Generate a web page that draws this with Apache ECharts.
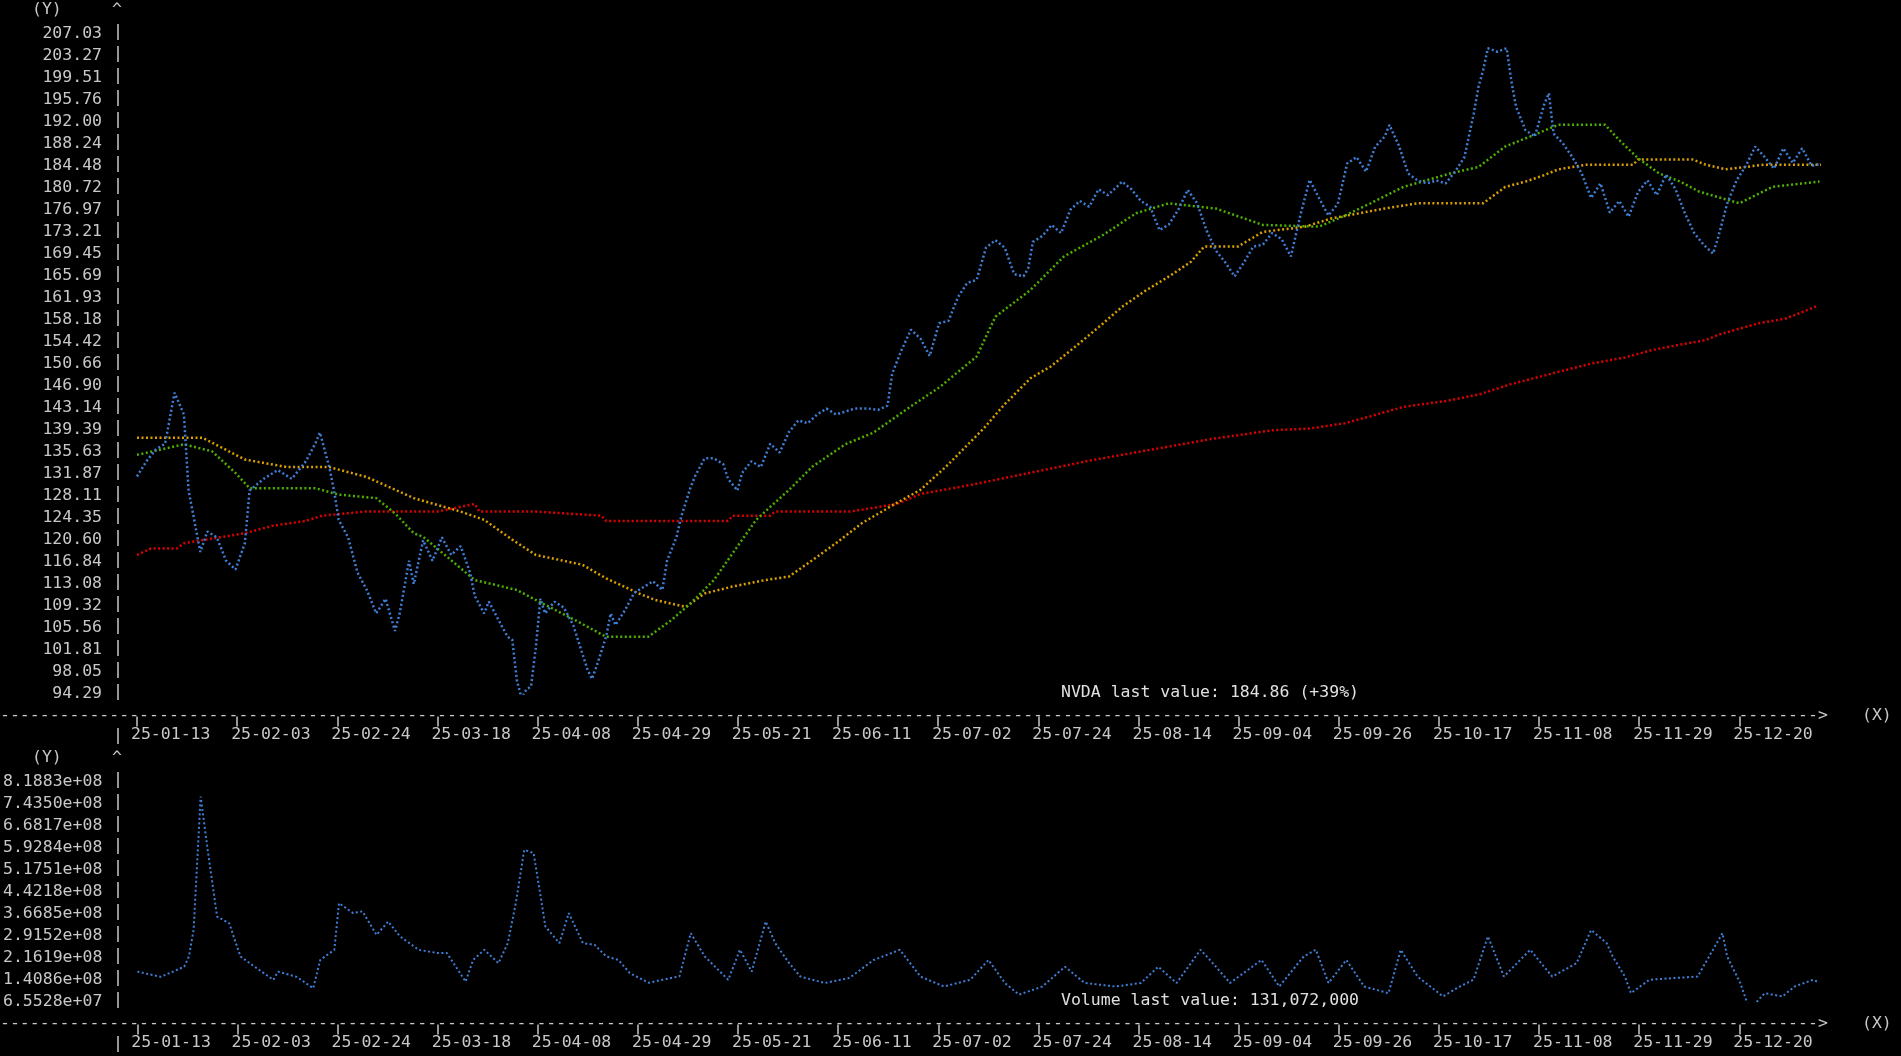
<!DOCTYPE html>
<html><head><meta charset="utf-8">
<script src="https://cdn.jsdelivr.net/npm/echarts@6/dist/echarts.min.js"></script>
<style>html,body{margin:0;padding:0;background:#000}#c{width:1901px;height:1056px}</style>
</head><body><div id="c"></div>
<script>
// x values are days after 2025-01-13 02:24
const priceDays = [0,2,4,6,8,10,11,13.5,15,17,19,21,23,24,27,30,33,36,38,39,41,42,43,45,46,47,49,51,53,55,56,58,59,61,63,65,67,69,71,72,74,75,77,79,80,81,82,83,84,85,86,87,89,91,93,95,96,97,98,100,101,102,104,106,108,110,112,113,115,116,118,119,121,123,125,126,128,129,131,133,135,137,139,141,143,145,147,149,151,153,156,158,160,161,163,165,167,169,171,173,175,177,179,181,183,185,187,189,190,191,193,195,197,199,201,203,205,207,209,210,212,214,216,218,220,222,224,226,228,230,232,234,236,238,240,242,244,246,248,250,252,254,256,258,260,262,264,266,267,269,271,273,275,277,279,281,283,285,286,287,288,290,292,293,294,296,298,300,301,302,304,306,308,310,312,314,316,318,320,322,324,326,328,330,332,334,336,337,339,341,343,345,347,349,351,353,355,357,359];
const priceVals = [131.4,134,136,137,145.7,142,129,118.5,122,121,117,115.5,120,129,131,132.5,131,134,137,138.9,133,129,124,121,118,115,112,108,110.5,105,108,117,113,120.5,117,121,118,119.5,115,111,108,110,107,104,103.5,96.5,93.5,95,95.5,102,110.5,108,110,109,106,101,98.5,96.8,99,104,108,106,108.5,111.5,112.5,113.5,112,117,121,124.5,129.5,131.5,134.5,134.5,133.5,131,129,132,134,133,137,135.5,139,141,140.5,142,143,142,142.5,143,143,142.8,143.5,149,153,156.5,155,152,157.6,158,162,164.5,165,170.5,171.8,170.5,166,165.6,167,171.5,172.5,174.4,173,177,178.5,177.5,180.5,179.5,181,181.8,180.5,178.5,177.5,173.5,174.5,177,180.4,178.1,173.5,170,168,165.6,168,170.7,171,173,172,169,176,182.1,179,176,178,184.9,186,183.5,187.8,189.5,191.5,188,183.2,182,181.5,182,181.5,183.5,186,193.5,198,200.9,204.6,204,204.6,199,194.6,190.6,189.5,195,196.9,190,188.3,186,183.2,179,181.5,176.5,178.5,175.8,180,182,179.5,183,180.5,176.4,173,171,169.5,172,178,182,184.5,187.8,186,184,187.5,185,187.5,184.5,184.86];

const maShortDays = [0,10,16,21,24,38,43,51,55,59,61,72,81,85,94,100,109,114,118,123,127,132,139,144,151,157,165,171,179,183,190.5,197.6,206,213,220,230,240,252,257,263,270,280,286,291.7,297,303,313,316,320,324.5,329,333,341.6,348.7,358.7];
const maShortVals = [135.1,136.9,135.7,132,129.4,129.4,128.3,127.7,125.1,121.7,121.1,113.7,112,110.3,106.6,104,104,106.9,109.7,113.7,118.3,124,129.1,133.1,136.9,138.9,143.4,146.6,151.9,158.7,163.3,169,172.7,176.4,178.1,177.2,174.4,174.1,175.8,178.1,180.9,183.2,184.3,187.8,189.5,191.5,191.5,188.9,185.8,183.2,181.8,180.1,178.1,180.9,181.8];

const maMidDays = [0,14,23,32,41,49,59,69,74,80,85,95,100,107,110.5,117,121,127,134,139,144,149,154.5,162,167,172.5,180.5,184.8,190.5,194.8,200.5,206,210,214.7,220.4,224.7,227.5,234.7,240,249,254.6,266,273,287,291.7,296,300,303,309,319,320,331.6,334.4,338.7,347,359];
const maMidVals = [138,138,134.3,133,133,131.3,127.7,125.4,124,120.6,118,116.3,114,111.4,110.3,109.1,111.4,112.6,113.7,114.3,117.1,120,123.4,126.9,129.1,133.1,139.6,143.6,148.2,150.2,153.9,157.6,160.4,163,165.8,168.1,170.7,170.7,173.2,174.1,175.5,177.2,178.1,178.1,180.9,181.8,182.9,183.9,184.7,184.7,185.6,185.6,184.7,183.9,184.7,184.7];

const maLongDays = [0,3,8.5,10,23,29,36,39.5,48.6,64,72,73,85,99,100,126,127,135,136,152,162,167,178,203,229,242,250,257.5,263,270,279,286,293,301.7,310,317,323,328.7,334.4,337,345.8,351.5,354.4,358];
const maLongVals = [118,119.1,119.1,120,121.7,123,123.8,124.7,125.4,125.4,126.7,125.4,125.4,124.7,123.8,123.8,124.7,124.7,125.4,125.4,126.7,128.4,130,134.1,137.8,139.3,139.6,140.5,141.7,143.3,144.3,145.4,147.2,149,150.7,151.7,153,153.9,154.7,155.6,157.6,158.4,159.3,160.5];

const volDays = [0,5,10,11,12,13.5,15,16,17,19.6,21,22,25,29,30,34,37.5,39,42,43,46,48,51,53.5,56,60,64,66,70,71.6,74,77,79,80.7,82.5,84.5,86,87,90,92,95,97.5,100,102.6,105,109,115.6,118,121,126,128.5,131,134,136,139,141.4,146.6,151.8,157,162.6,167,172,177.6,181.5,185,188,193,197.8,202,208.6,214,217.7,221.6,226.7,229,233,239.7,243.5,248.7,251.3,254,257.8,261.6,266.8,269.4,273,278.4,282,284.9,288,291.4,297,301.7,306.9,310,313.3,314.6,317.2,318.5,322.4,327.6,332.7,338,339,341.8,343.8,347,350.8,353.4,357.3,358.6];
const volVals = [168,150,185,220,311,769,586,472,357,334,266,220,185,140,168,150,111,208,243,403,369,375,294,340,289,243,232,232,134,208,243,197,266,403,586,575,426,323,266,369,266,260,220,208,163,130,152,300,220,140,243,168,340,266,197,151,129,146,208,243,151,117,140,208,129,89,117,185,129,117,129,185,129,243,203,129,208,117,220,243,129,208,117,94,243,151,83,117,140,289,151,243,151,197,311,266,220,151,94,140,146,151,300,220,129,37,94,83,117,140,131.072];

const yTicksTop = {min:94.29, max:207.03, step:3.758};
const yTicksVol = {min:65.528e6, max:818.83e6, step:75.3302e6};
const xStep = 21.35;
const BASE = Date.UTC(2025,0,13,2,24);

const FONT = 'DejaVu Sans Mono';
const TXT = '#c8c8c8';
const z = (a,b,k)=>a.map((d,i)=>[d,b[i]*(k||1)]);
function fmtDate(v){const d=new Date(BASE+v*86400000);const p=n=>String(n).padStart(2,'0');return p(d.getUTCFullYear()%100)+'-'+p(d.getUTCMonth()+1)+'-'+p(d.getUTCDate());}
function fmtExp(v){let s=v.toExponential(4);return s.replace(/e([+-])(\d)$/,'e$10$2');}

const chart = echarts.init(document.getElementById('c'));
const xAx = (gi)=>({type:'value',gridIndex:gi,min:0,max:362,interval:xStep,offset:23,
  axisLine:{show:false},splitLine:{show:false},
  axisTick:{show:true,length:10,lineStyle:{color:'#c8c8c8',width:1.5}},
  axisLabel:{formatter:fmtDate,color:TXT,fontFamily:FONT,fontSize:16.5,align:'left',margin:10,padding:[0,0,0,-6],showMaxLabel:false}});
const yAx = (gi,t,f)=>({type:'value',gridIndex:gi,min:t.min,max:t.max,interval:t.step,
  axisLine:{show:false},axisTick:{show:false},splitLine:{show:false},
  axisLabel:{formatter:f,color:TXT,fontFamily:FONT,fontSize:16.5,margin:35}});
const ln = (name,data,color,xi,yi,w)=>({name,type:'line',xAxisIndex:xi,yAxisIndex:yi,data,showSymbol:false,animation:false,
  lineStyle:{color,width:w||2.5,type:[2,2.5]}});
const txt = (l,t,s,fill)=>({type:'text',left:l,top:t,style:{text:s,fill:fill||TXT,font:'16.5px '+FONT}});
const vline = (y1,y2)=>({type:'line',shape:{x1:118,y1:y1,x2:118,y2:y2},style:{stroke:TXT,lineWidth:1.5,lineDash:[16,6]}});
chart.setOption({
  backgroundColor:'#000',animation:false,
  grid:[{left:137,right:66,top:34,height:659.6},{left:137,right:66,top:782,height:219.5}],
  xAxis:[xAx(0),xAx(1)],
  yAxis:[yAx(0,yTicksTop,v=>v.toFixed(2)),yAx(1,yTicksVol,fmtExp)],
  series:[
    ln('MA long',z(maLongDays,maLongVals),'#e00000',0,0),
    ln('MA mid',z(maMidDays,maMidVals),'#d8a000',0,0),
    ln('MA short',z(maShortDays,maShortVals),'#4fb000',0,0),
    ln('NVDA',z(priceDays,priceVals),'#3f7fd8',0,0),
    ln('Volume',z(volDays,volVals,1e6),'#3f7fd8',1,1,2)
  ],
  graphic:[
    vline(24,706),vline(772,1014),vline(728,748),vline(1036,1056),
    txt(0,707,'-'.repeat(183)+'>'),txt(0,1015,'-'.repeat(183)+'>'),
    txt(1862,707,'(X)'),txt(1862,1015,'(X)'),
    txt(32,1,'(Y)'),txt(112,1,'^'),txt(32,749,'(Y)'),txt(112,749,'^'),
    txt(1061,684,'NVDA last value: 184.86 (+39%)','#e0e0e0'),
    txt(1061,992,'Volume last value: 131,072,000','#e0e0e0')
  ]
});
</script></body></html>
